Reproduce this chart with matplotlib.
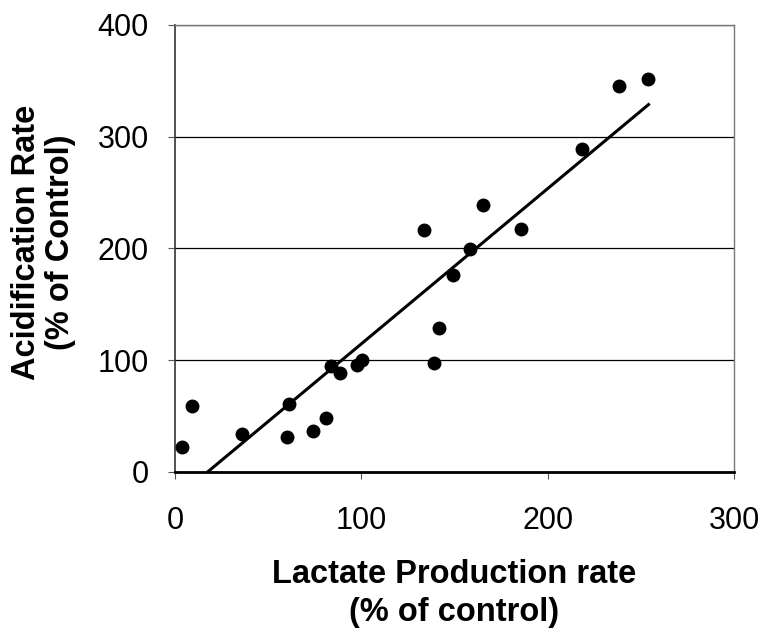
import matplotlib
matplotlib.use("Agg")
import matplotlib.pyplot as plt
import numpy as np

plt.rcParams['font.family'] = ['Liberation Sans', 'DejaVu Sans']

lactate = [3.6, 9.0, 35.8, 60.9, 60.0, 73.8, 81.0, 83.7, 88.4, 97.7, 100.4,
           133.5, 139.2, 141.6, 149.3, 158.1, 165.4, 185.5, 218.6, 238.5, 254.1]
acidification = [22.4, 59.2, 33.8, 60.7, 30.8, 36.8, 47.9, 94.2, 88.2, 95.1, 100.2,
                 216.2, 97.2, 128.6, 175.8, 199.7, 239.2, 217.7, 289.1, 345.3, 351.9]
x_ticks = [0, 100, 200, 300]
y_ticks = [0, 100, 200, 300, 400]

x = np.array(lactate)
y = np.array(acidification)

fig = plt.figure(figsize=(7.65, 6.28), dpi=100)
ax = fig.add_axes([0.2288, 0.2489, 0.7307, 0.7113])

# linear trendline
slope, intercept = np.polyfit(x, y, 1)
xs = np.array([x.min(), x.max()])
ax.plot(xs, slope * xs + intercept, color='black', lw=2.2, zorder=2)

ax.plot(x, y, 'o', color='black', markersize=9, zorder=3, clip_on=False)

ax.set_xlim(0, 300)
ax.set_ylim(0, 400)
ax.set_xticks(x_ticks)
ax.set_yticks(y_ticks)
ax.yaxis.grid(True, color='black', lw=0.9)
ax.set_axisbelow(True)

ax.tick_params(axis='both', labelsize=22, length=5, direction='out', color='#555555')
ax.tick_params(axis='x', pad=20)
ax.tick_params(axis='y', pad=14)

for side in ['top', 'right']:
    ax.spines[side].set_color('#777777')
    ax.spines[side].set_linewidth(1.0)
ax.spines['left'].set_color('#333333')
ax.spines['left'].set_linewidth(1.2)
ax.spines['bottom'].set_color('black')
ax.spines['bottom'].set_linewidth(2.0)

ax.set_xlabel('Lactate Production rate\n(% of control)', fontsize=23.5, fontweight='bold',
              linespacing=1.3)
ax.set_ylabel('Acidification Rate\n(% of Control)', fontsize=23.5, fontweight='bold',
              linespacing=1.1)
ax.xaxis.set_label_coords(0.5, -0.196)
ax.yaxis.set_label_coords(-0.178, 0.513)

fig.savefig('out.png', dpi=100)
